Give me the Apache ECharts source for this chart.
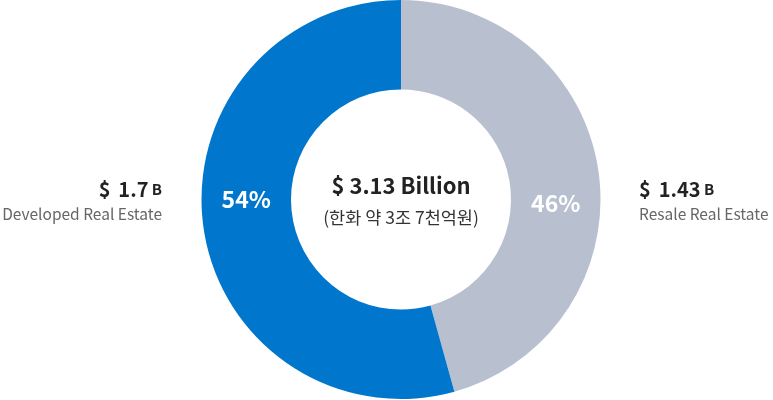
<!DOCTYPE html>
<html>
<head>
<meta charset="utf-8">
<script src="https://cdn.jsdelivr.net/npm/echarts@6/dist/echarts.min.js"></script>
<style>
html,body{margin:0;padding:0;background:#fff;}
#c{width:773px;height:400px;}
</style>
</head>
<body>
<div id="c"></div>
<script>
var categories = ['Resale Real Estate', 'Developed Real Estate'];
var values = [1.43, 1.7];
var colors = ['#b8bfcf', '#0077cc'];
var totalLabel = '(한화 약 3조 7천억원)';

var FONT = '"Noto Sans CJK KR", "Noto Sans", sans-serif';
var cx = 401, cy = 199.5, rIn = 110, rOut = 199.5;
var total = values.reduce(function(a, b){ return a + b; }, 0);

var richAmt = {
  a: { font: 'bold 20px ' + FONT, fill: '#222' },
  s: { font: 'bold 20px ' + FONT, fill: '#222', width: 8 },
  b: { font: 'bold 15px ' + FONT, fill: '#222' }
};

var chart = echarts.init(document.getElementById('c'));
chart.setOption({
  animation: false,
  series: [{
    type: 'pie',
    center: [cx, cy],
    radius: [rIn, rOut],
    startAngle: 90,
    clockwise: true,
    silent: true,
    data: categories.map(function(n, i){
      return { name: n, value: values[i], itemStyle: { color: colors[i] } };
    }),
    label: {
      show: true,
      position: 'inside',
      formatter: function(p){ return Math.round(p.percent) + '%'; },
      color: '#fff',
      fontFamily: FONT,
      fontWeight: 'bold',
      fontSize: 23
    },
    labelLine: { show: false },
    labelLayout: function(p){
      var side = p.dataIndex === 0 ? 1 : -1;
      return { x: cx + side * (rIn + rOut) / 2, y: cy + (p.dataIndex === 0 ? 4 : 0), align: 'center', verticalAlign: 'middle' };
    }
  }],
  graphic: [
    { type: 'text', x: cx, y: 186, style: { text: '$ ' + total.toFixed(2) + ' Billion', font: 'bold 22px ' + FONT, fill: '#222', textAlign: 'center', textVerticalAlign: 'middle' } },
    { type: 'text', x: cx, y: 217, style: { text: totalLabel, font: '17.5px ' + FONT, fill: '#333', textAlign: 'center', textVerticalAlign: 'middle' } },
    { type: 'text', x: 162, y: 189, style: { text: '{a|$ } {a|' + values[1] + '} {b|B}', rich: richAmt, textAlign: 'right', textVerticalAlign: 'middle' } },
    { type: 'text', x: 162, y: 214, style: { text: categories[1], font: '15.5px ' + FONT, fill: '#666', textAlign: 'right', textVerticalAlign: 'middle' } },
    { type: 'text', x: 639, y: 189, style: { text: '{a|$ } {a|' + values[0] + '} {b|B}', rich: richAmt, textAlign: 'left', textVerticalAlign: 'middle' } },
    { type: 'text', x: 639, y: 214, style: { text: categories[0], font: '15.5px ' + FONT, fill: '#666', textAlign: 'left', textVerticalAlign: 'middle' } }
  ]
});
</script>
</body>
</html>
